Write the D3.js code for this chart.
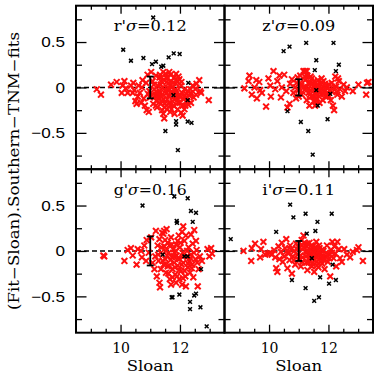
<!DOCTYPE html>
<html>
<head>
<meta charset="utf-8">
<script src="https://cdn.jsdelivr.net/npm/d3@7"></script>
<style>
  body { margin: 0; background: #fff; }
</style>
</head>
<body>
<div id="chart"></div>
<script>
// tick values
const xMajor = [10, 12]
const xMinor = [9, 9.5, 10.5, 11, 11.5, 12.5, 13]
const yMajor = [-0.5, 0, 0.5]
const yMinor = [-0.75, -0.25, 0.25, 0.75]

// panels: top-left, top-right, bottom-left, bottom-right
const bands = ["r'", "z'", "g'", "i'"]
const sigmas = [0.12, 0.09, 0.16, 0.11]
const errX = 11

// [Sloan, Fit-Sloan]
const redR = [
  [9.20,-0.02],[9.34,-0.08],[9.68,0.03],[9.87,0.06],[10.07,0.02],[10.13,0.07],[10.04,-0.06],[10.24,-0.06],
  [10.18,-0.01],[10.43,0.05],[10.46,-0.03],[10.54,-0.18],[10.58,-0.10],[10.65,-0.06],[10.72,0.00],[10.74,0.08],
  [10.78,-0.12],[10.82,-0.20],[10.88,-0.25],[10.95,-0.27],[10.91,0.14],[10.86,0.05],[10.61,0.02],[10.35,0.02],
  [10.41,-0.06],[10.50,-0.15],[10.69,-0.17],[11.03,0.17],[11.08,0.07],[11.14,-0.02],[11.17,-0.09],[11.22,-0.15],
  [11.25,0.02],[11.31,0.11],[11.33,-0.06],[11.36,-0.18],[11.40,-0.25],[11.44,-0.29],[11.47,-0.34],[11.51,0.15],
  [11.55,0.06],[11.59,-0.03],[11.62,-0.09],[11.64,-0.17],[11.68,0.14],[11.70,0.07],[11.73,0.00],[11.75,-0.06],
  [11.78,-0.20],[11.81,0.11],[11.84,-0.13],[11.87,0.04],[11.89,-0.04],[11.92,-0.24],[11.96,-0.09],[11.98,0.09],
  [12.00,-0.17],[12.04,0.02],[12.07,-0.06],[12.09,-0.31],[12.11,-0.13],[12.15,-0.02],[12.18,-0.20],[12.20,-0.07],
  [12.24,-0.15],[12.27,-0.04],[12.32,-0.09],[12.37,-0.06],[12.43,0.02],[12.46,-0.11],[12.52,-0.02],[12.56,0.04],
  [12.65,0.08],[12.71,-0.06],[12.97,-0.14],[12.15,-0.24],[12.04,-0.28],[11.19,-0.20],[11.10,-0.18],[10.97,-0.04],
  [10.99,-0.11],[11.28,-0.09],[11.42,0.00],[11.44,-0.13],[11.49,-0.18],[11.53,-0.07],[11.56,-0.24],[11.60,0.04],
  [11.64,0.17],[11.71,-0.24],[11.75,-0.15],[11.82,-0.06],[11.90,0.07],[11.93,-0.17],[11.19,0.13],[11.36,0.07],
  [11.44,0.17],[11.53,0.11],[11.87,0.15],[11.31,-0.04],[11.70,-0.05],[11.62,-0.01],[12.09,-0.20],[11.25,-0.09],
  [11.40,-0.15],[11.87,-0.09],[11.51,-0.04],[12.37,-0.17],[12.54,-0.08],[12.68,-0.04],
  [11.12,0.03],[11.20,-0.05],[11.27,-0.12],[11.35,0.03],[11.38,-0.10],[11.46,0.08],[11.48,-0.22],[11.57,-0.13],
  [11.66,-0.20],[11.69,0.03],[11.77,0.05],[11.80,-0.10],[11.85,-0.02],[11.94,-0.13],[12.01,-0.09],[12.05,0.06],
  [12.13,-0.10],[12.22,-0.11],[12.28,-0.19],[11.58,0.10],[11.33,0.14],[11.95,0.12],[11.05,-0.08],[10.92,-0.07],
  [11.67,-0.27],[11.82,-0.29],[12.35,-0.02],[11.23,-0.22]
]
const blackR = [
  [11.10,0.77],[10.09,0.415],[10.35,0.294],[10.77,0.324],[11.06,0.257],[11.19,0.283],[11.37,0.228],[11.44,0.239],
  [11.62,0.331],[11.79,0.375],[11.99,0.368],[12.28,0.05],[11.78,-0.085],[12.26,-0.14],[11.87,-0.37],[11.87,-0.41],
  [12.26,-0.375],[12.39,-0.39],[11.51,-0.48],[11.93,-0.69]
]

const redZ = [
  [9.17,-0.01],[9.31,0.07],[9.34,0.13],[9.42,-0.08],[9.51,0.00],[9.57,0.08],[9.59,-0.12],[9.67,0.06],
  [9.70,-0.03],[9.76,-0.06],[9.90,-0.21],[9.98,0.10],[10.04,0.02],[10.06,-0.10],[10.15,0.18],[10.21,-0.02],
  [10.28,0.07],[10.35,0.13],[10.40,-0.11],[10.43,0.00],[10.51,0.14],[10.58,-0.04],[10.62,-0.22],[10.69,-0.18],
  [10.71,0.04],[10.77,0.09],[10.82,-0.06],[10.88,0.00],[10.91,-0.12],[10.96,0.11],[10.99,-0.03],[11.05,0.05],
  [11.10,-0.08],[11.16,0.18],[11.22,0.08],[11.25,0.00],[11.27,-0.14],[11.29,0.13],[11.33,-0.06],[11.36,-0.20],
  [11.38,0.05],[11.42,-0.10],[11.44,0.10],[11.47,-0.02],[11.50,-0.15],[11.52,0.07],[11.55,-0.07],[11.59,0.02],
  [11.61,-0.12],[11.64,0.08],[11.66,-0.03],[11.70,-0.17],[11.72,0.04],[11.75,-0.08],[11.79,-0.01],[11.81,-0.14],
  [11.83,0.07],[11.87,-0.04],[11.90,-0.10],[11.95,0.02],[11.98,-0.06],[12.04,-0.03],[12.08,-0.14],[12.11,0.05],
  [12.15,-0.20],[12.19,-0.25],[12.23,0.12],[12.26,0.01],[12.30,-0.08],[12.35,0.07],[12.39,-0.02],[12.45,-0.10],
  [12.51,0.03],[12.56,-0.04],[12.62,0.00],[12.82,-0.04],[13.01,0.03],[13.27,-0.08],[13.30,0.05],[13.35,0.06],
  [11.05,0.13],[11.16,0.00],[11.33,0.05],[11.40,-0.03],[11.50,0.02],[11.78,0.05],[11.61,-0.04],[11.95,-0.10],
  [11.55,-0.20],[11.27,0.18],[11.22,0.18],
  [11.08,0.02],[11.13,-0.05],[11.20,0.12],[11.31,-0.02],[11.37,-0.08],[11.45,0.04],[11.49,-0.10],[11.57,0.05],
  [11.63,-0.08],[11.68,0.01],[11.74,-0.05],[11.77,0.10],[11.85,-0.07],[11.92,0.00],[12.00,-0.09],[12.02,0.03],
  [12.13,-0.05],[12.20,0.00],[12.28,-0.05],[11.40,0.12],[11.58,-0.15],[11.88,0.04],[10.93,0.05],[11.00,-0.10],
  [12.32,0.10]
]
const blackZ = [
  [10.49,0.40],[10.69,0.45],[11.25,0.49],[12.17,0.49],[11.59,0.30],[11.54,0.19],[12.35,0.25],[12.25,0.18],
  [10.62,-0.26],[11.07,-0.38],[11.32,-0.48],[11.47,-0.74],[11.97,-0.35],[11.64,-0.20],[12.06,-0.07],[11.59,-0.03]
]

const redG = [
  [9.45,-0.06],[9.42,-0.05],[10.13,-0.11],[10.24,0.01],[10.35,0.03],[10.41,-0.05],[10.54,-0.15],[10.58,0.02],
  [10.69,0.00],[10.72,-0.07],[10.80,0.06],[10.86,-0.11],[10.88,0.12],[10.95,-0.02],[11.03,0.15],[11.08,-0.13],
  [11.17,-0.06],[11.22,-0.28],[11.31,-0.35],[11.33,-0.40],[11.36,-0.20],[11.40,0.20],[11.44,0.19],[11.47,0.05],
  [11.51,-0.09],[11.53,-0.24],[11.55,0.24],[11.59,0.09],[11.62,-0.02],[11.64,-0.16],[11.66,-0.31],[11.70,0.15],
  [11.73,-0.07],[11.75,-0.20],[11.78,0.02],[11.81,-0.13],[11.84,-0.26],[11.87,0.07],[11.89,-0.05],[11.92,-0.16],
  [11.96,0.17],[11.98,-0.09],[12.00,0.04],[12.04,-0.22],[12.07,0.21],[12.09,-0.02],[12.11,-0.13],[12.15,0.11],
  [12.18,-0.28],[12.20,-0.39],[12.23,-0.06],[12.26,-0.18],[12.29,0.04],[12.32,-0.11],[12.34,-0.24],[12.37,-0.04],
  [12.41,-0.15],[12.43,0.08],[12.48,0.23],[12.52,-0.09],[12.56,0.01],[12.60,-0.39],[12.63,-0.20],[12.67,-0.06],
  [12.74,-0.11],[12.93,0.02],[12.99,-0.06],[13.05,0.03],[13.08,-0.03],[11.19,0.22],[11.47,0.22],[12.11,0.27],
  [11.42,-0.11],[11.59,-0.17],[11.75,-0.29],[11.70,-0.37],[11.87,-0.35],[11.98,-0.31],[12.07,-0.37],[11.53,0.00],
  [11.81,-0.02],[11.92,0.11],[11.64,0.06],[11.25,0.06],[11.28,-0.11],[11.14,-0.20],[11.36,-0.02],[12.20,0.17],
  [12.37,0.18],[12.54,0.11],[12.45,-0.29],[11.31,0.13],
  [11.45,-0.15],[11.50,0.12],[11.57,-0.05],[11.61,-0.25],[11.68,-0.10],[11.72,0.07],[11.79,-0.06],[11.83,-0.18],
  [11.86,0.00],[11.94,-0.08],[11.97,-0.21],[12.02,0.09],[12.06,-0.15],[12.12,-0.06],[12.16,-0.22],[12.24,0.00],
  [12.28,-0.14],[12.35,-0.08],[12.40,-0.19],[12.47,-0.02],[11.38,0.04],[11.27,-0.04],[12.10,-0.30],[11.90,-0.28],
  [12.58,-0.13]
]
const blackG = [
  [11.81,0.60],[12.26,0.58],[10.74,0.50],[12.37,0.44],[12.54,0.42],[11.89,0.33],[11.90,0.31],[12.43,0.32],
  [12.26,-0.06],[12.15,-0.06],[11.42,-0.04],[11.75,-0.51],[11.72,-0.51],[11.98,-0.48],[12.48,-0.49],[12.54,-0.47],
  [12.34,-0.56],[12.34,-0.64],[12.69,-0.62],[12.71,-0.20],[12.90,-0.83]
]

const redI = [
  [9.14,0.00],[9.40,-0.11],[9.42,0.03],[9.53,0.08],[9.70,-0.07],[9.73,0.02],[9.81,0.10],[9.87,-0.04],
  [9.95,-0.03],[10.02,-0.02],[10.09,-0.04],[10.17,0.01],[10.21,-0.07],[10.24,-0.19],[10.28,-0.23],[10.32,0.05],
  [10.35,-0.09],[10.40,-0.01],[10.43,0.09],[10.46,-0.12],[10.51,-0.06],[10.54,0.03],[10.58,0.13],[10.62,-0.19],
  [10.65,-0.03],[10.69,-0.10],[10.71,0.06],[10.77,-0.25],[10.80,-0.06],[10.85,0.00],[10.88,-0.15],[10.91,0.08],
  [10.96,-0.04],[10.99,-0.10],[11.03,0.03],[11.07,-0.17],[11.10,0.07],[11.14,-0.07],[11.16,0.17],[11.22,-0.01],
  [11.25,-0.13],[11.27,0.05],[11.29,-0.21],[11.33,-0.04],[11.36,0.09],[11.38,-0.11],[11.40,0.01],[11.44,-0.17],
  [11.47,0.05],[11.50,-0.06],[11.52,-0.23],[11.55,-0.01],[11.59,0.10],[11.61,-0.12],[11.64,-0.04],[11.66,-0.18],
  [11.70,0.03],[11.72,-0.08],[11.75,-0.03],[11.79,-0.14],[11.83,0.00],[11.87,-0.20],[11.90,-0.06],[11.95,0.06],
  [11.98,-0.12],[12.01,-0.04],[12.06,-0.28],[12.09,0.01],[12.13,0.10],[12.17,-0.08],[12.23,-0.03],[12.26,-0.17],
  [12.30,0.10],[12.35,0.02],[12.39,-0.08],[12.45,-0.12],[12.53,0.02],[12.62,-0.04],[12.73,-0.07],[12.82,-0.01],
  [12.96,0.01],[13.01,0.04],[13.16,-0.11],[11.16,0.04],[11.29,0.08],[11.38,-0.03],[11.52,0.03],[11.66,-0.01],
  [11.81,-0.07],[11.44,-0.08],[11.33,-0.13],[10.60,0.00],[10.94,0.02],
  [10.75,0.02],[10.83,-0.10],[10.98,0.05],[11.05,-0.05],[11.12,-0.12],[11.19,0.09],[11.24,-0.06],[11.31,0.00],
  [11.35,-0.08],[11.42,0.06],[11.48,-0.02],[11.54,-0.10],[11.57,0.04],[11.62,-0.07],[11.68,0.06],[11.73,-0.12],
  [11.77,0.01],[11.85,-0.10],[11.92,-0.02],[12.04,-0.08],[12.12,-0.02],[12.20,0.05],[11.45,-0.14],[11.62,-0.16],
  [11.10,0.12]
]
const blackI = [
  [8.71,0.13],[10.71,0.51],[10.82,0.37],[11.23,0.41],[11.63,0.32],[12.11,0.41],[10.24,0.21],[11.27,0.19],
  [11.56,0.22],[10.77,-0.32],[11.23,-0.41],[11.52,-0.55],[11.68,-0.51],[11.72,-0.29],[12.02,-0.36],[12.25,-0.32],
  [12.14,-0.15],[11.44,-0.08]
]

const redSets = [redR, redZ, redG, redI]
const blackSets = [blackR, blackZ, blackG, blackI]

const width = 379, height = 379
const marginLeft = 76, marginTop = 5.7
const pw = 148.5, ph = 163.5
const serif = "'DejaVu Serif', serif"
const sans = "'Liberation Sans', Arial, sans-serif"

const svg = d3.select("#chart").append("svg")
  .attr("width", width)
  .attr("height", height)

function cross(s) {
  return `M${-s},${-s}L${s},${s}M${-s},${s}L${s},${-s}`
}

function tickAxis(g, axisFn, scale, major, minor, bigLen, smallLen) {
  g.append("g").call(axisFn(scale).tickValues(major).tickSize(bigLen).tickFormat(""))
  g.append("g").call(axisFn(scale).tickValues(minor).tickSize(smallLen).tickFormat(""))
  g.selectAll(".domain").remove()
  g.selectAll(".tick line").attr("stroke", "#000").attr("stroke-width", 1.3)
}

bands.forEach((band, i) => {
  const col = i % 2, row = Math.floor(i / 2)
  const x0 = marginLeft + col * pw, y0 = marginTop + row * ph
  const x = d3.scaleLinear().domain([8.5, 13.5]).range([0, pw])
  const y = d3.scaleLinear().domain([-0.9, 0.9]).range([ph, 0])
  const g = svg.append("g").attr("transform", `translate(${x0},${y0})`)

  // ticks on all four sides, pointing inwards
  tickAxis(g.append("g").attr("transform", `translate(0,${ph})`), d3.axisTop, x, xMajor, xMinor, 8, 4)
  tickAxis(g.append("g"), d3.axisBottom, x, xMajor, xMinor, 8, 4)
  tickAxis(g.append("g"), d3.axisRight, y, yMajor, yMinor, 10.5, 6)
  tickAxis(g.append("g").attr("transform", `translate(${pw},0)`), d3.axisLeft, y, yMajor, yMinor, 10.5, 6)

  // zero line
  g.append("line")
    .attr("x1", 0).attr("x2", pw)
    .attr("y1", y(0)).attr("y2", y(0))
    .attr("stroke", "#000")
    .attr("stroke-width", 1.6)
    .attr("stroke-dasharray", "5,3")

  g.selectAll(".red").data(redSets[i]).enter().append("path")
    .attr("class", "red")
    .attr("transform", d => `translate(${x(d[0])},${y(d[1])})`)
    .attr("d", cross(2.9))
    .attr("stroke", "#ff1010")
    .attr("stroke-width", 2)
    .attr("fill", "none")

  g.selectAll(".blk").data(blackSets[i]).enter().append("path")
    .attr("class", "blk")
    .attr("transform", d => `translate(${x(d[0])},${y(d[1])})`)
    .attr("d", cross(1.9))
    .attr("stroke", "#000")
    .attr("stroke-width", 1.5)
    .attr("fill", "none")

  // sigma error bar
  const s = sigmas[i]
  const eb = g.append("g").attr("stroke", "#000").attr("stroke-width", 1.8)
  eb.append("line").attr("x1", x(errX)).attr("x2", x(errX)).attr("y1", y(-s)).attr("y2", y(s))
  eb.append("line").attr("x1", x(errX) - 3.5).attr("x2", x(errX) + 3.5).attr("y1", y(s)).attr("y2", y(s))
  eb.append("line").attr("x1", x(errX) - 3.5).attr("x2", x(errX) + 3.5).attr("y1", y(-s)).attr("y2", y(-s))

  // border
  g.append("rect")
    .attr("width", pw).attr("height", ph)
    .attr("fill", "none")
    .attr("stroke", "#000")
    .attr("stroke-width", 2)

  // panel title
  const t = g.append("text")
    .attr("x", pw / 2).attr("y", 25.5)
    .attr("text-anchor", "middle")
    .attr("font-family", serif)
    .attr("font-size", 14.5)
    .attr("textLength", 73)
    .attr("lengthAdjust", "spacingAndGlyphs")
  t.append("tspan").text(band)
  t.append("tspan").attr("font-style", "italic").text("σ")
  t.append("tspan").text("=" + s.toFixed(2))

  if (row === 1) {
    const ax = g.append("g").attr("transform", `translate(0,${ph})`)
      .call(d3.axisBottom(x).tickValues(xMajor).tickSize(0).tickPadding(10).tickFormat(d3.format("d")))
    ax.select(".domain").remove()
    ax.selectAll("text").attr("font-family", serif).attr("font-size", 14).attr("fill", "#000")
    g.append("text")
      .attr("x", pw / 2).attr("y", 371.5 - y0)
      .attr("text-anchor", "middle")
      .attr("font-family", serif)
      .attr("font-size", 15)
      .attr("textLength", 47)
      .attr("lengthAdjust", "spacingAndGlyphs")
      .text("Sloan")
  }
  if (col === 0) {
    const ay = g.append("g")
      .call(d3.axisLeft(y).tickValues(yMajor).tickSize(0).tickPadding(11).tickFormat(d3.format("")))
    ay.select(".domain").remove()
    ay.selectAll("text")
      .attr("font-family", sans).attr("font-size", 15).attr("fill", "#000")
      .each(function() {
        d3.select(this)
          .attr("textLength", this.getComputedTextLength() * 1.14)
          .attr("lengthAdjust", "spacingAndGlyphs")
      })
  }
})

svg.append("text")
  .attr("transform", `translate(19,171) rotate(-90)`)
  .attr("text-anchor", "middle")
  .attr("font-family", serif)
  .attr("font-size", 14)
  .attr("textLength", 278)
  .attr("lengthAdjust", "spacingAndGlyphs")
  .text("(Fit−Sloan).Southern−TNM−fits")
</script>
</body>
</html>
